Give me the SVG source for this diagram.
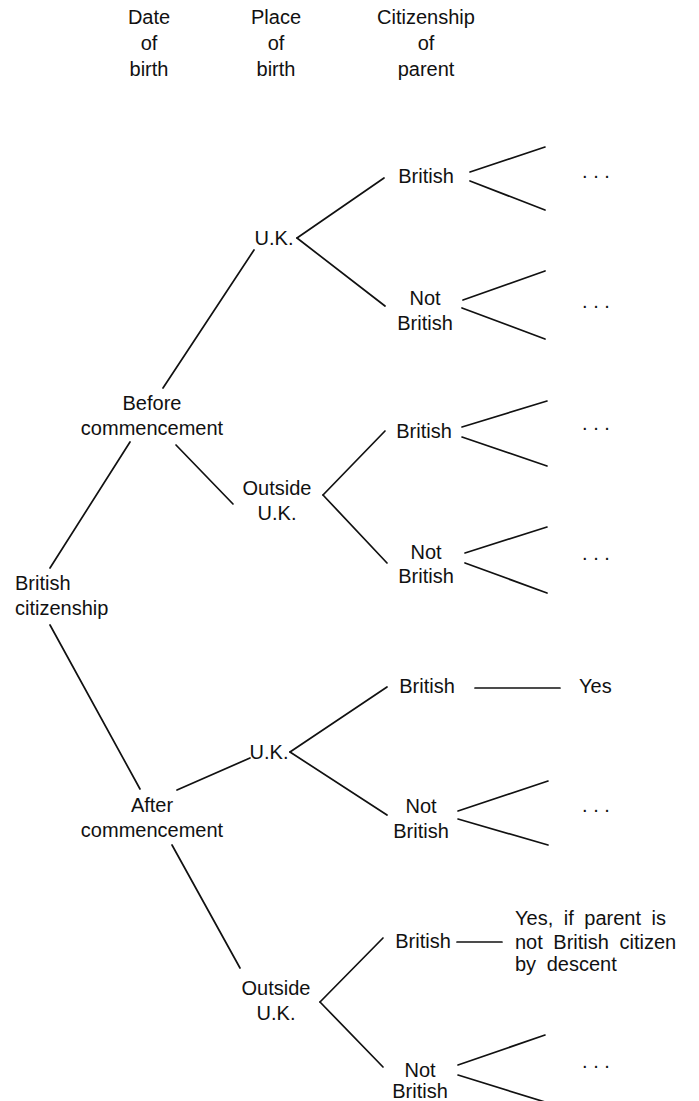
<svg xmlns="http://www.w3.org/2000/svg" width="699" height="1101" viewBox="0 0 699 1101">
<style>
text{font-family:"Liberation Sans",Arial,sans-serif;font-size:20px;fill:#111}
.m{text-anchor:middle}
.s{text-anchor:start}
.w{word-spacing:5px}
.c line{stroke:#111;stroke-width:1.7;stroke-linecap:round}
</style>
<rect width="699" height="1101" fill="#fff"/>
<g id="headers">
<text class="m" x="149" y="24">Date</text><text class="m" x="149" y="50">of</text><text class="m" x="149" y="76">birth</text>
<text class="m" x="276" y="24">Place</text><text class="m" x="276" y="50">of</text><text class="m" x="276" y="76">birth</text>
<text class="m" x="426" y="24">Citizenship</text><text class="m" x="426" y="50">of</text><text class="m" x="426" y="76">parent</text>
</g>
<g class="c" id="connectors">
<line x1="50" y1="568" x2="130" y2="442"/>
<line x1="50" y1="625" x2="140" y2="789"/>
<line x1="163" y1="388" x2="254" y2="250"/>
<line x1="176" y1="445" x2="233" y2="504"/>
<line x1="297" y1="238" x2="384" y2="178"/>
<line x1="297" y1="238" x2="385" y2="306"/>
<line x1="470" y1="172" x2="545" y2="147"/>
<line x1="470" y1="181" x2="545" y2="210"/>
<line x1="463" y1="300" x2="545" y2="271"/>
<line x1="462" y1="308" x2="545" y2="339"/>
<line x1="323" y1="495" x2="385" y2="431"/>
<line x1="323" y1="495" x2="387" y2="563"/>
<line x1="462" y1="427" x2="547" y2="401"/>
<line x1="462" y1="437" x2="547" y2="466"/>
<line x1="465" y1="553" x2="547" y2="527"/>
<line x1="465" y1="563" x2="547" y2="593"/>
<line x1="177" y1="790" x2="250" y2="758"/>
<line x1="172" y1="845" x2="240" y2="968"/>
<line x1="290" y1="752" x2="387" y2="687"/>
<line x1="290" y1="752" x2="387" y2="815"/>
<line x1="475" y1="688" x2="560" y2="688"/>
<line x1="458" y1="811" x2="548" y2="781"/>
<line x1="458" y1="819" x2="548" y2="845"/>
<line x1="320" y1="1002" x2="383" y2="938"/>
<line x1="320" y1="1002" x2="383" y2="1067"/>
<line x1="457" y1="942" x2="502" y2="942"/>
<line x1="458" y1="1065" x2="545" y2="1035"/>
<line x1="458" y1="1075" x2="545" y2="1102"/>
</g>
<g id="n-root"><text class="s" x="15" y="590">British</text><text class="s" x="15" y="615">citizenship</text></g>
<g id="n-before"><text class="m" x="152" y="410">Before</text><text class="m" x="152" y="435">commencement</text></g>
<g id="n-after"><text class="m" x="152" y="812">After</text><text class="m" x="152" y="837">commencement</text></g>
<g id="n-uk1"><text class="m" x="274" y="245">U.K.</text></g>
<g id="n-out1"><text class="m" x="277" y="495">Outside</text><text class="m" x="277" y="520">U.K.</text></g>
<g id="n-uk2"><text class="m" x="269" y="759">U.K.</text></g>
<g id="n-out2"><text class="m" x="276" y="995">Outside</text><text class="m" x="276" y="1020">U.K.</text></g>
<g id="n-b1"><text class="m" x="426" y="183">British</text></g>
<g id="n-nb1"><text class="m" x="425" y="305">Not</text><text class="m" x="425" y="330">British</text></g>
<g id="n-b2"><text class="m" x="424" y="438">British</text></g>
<g id="n-nb2"><text class="m" x="426" y="559">Not</text><text class="m" x="426" y="583">British</text></g>
<g id="n-b3"><text class="m" x="427" y="693">British</text></g>
<g id="n-nb3"><text class="m" x="421" y="813">Not</text><text class="m" x="421" y="838">British</text></g>
<g id="n-b4"><text class="m" x="423" y="948">British</text></g>
<g id="n-nb4"><text class="m" x="420" y="1077">Not</text><text class="m" x="420" y="1098">British</text></g>
<g id="n-yes"><text class="s" x="579" y="693">Yes</text></g>
<g id="n-yes2"><text class="s w" x="515" y="925">Yes, if parent is</text><text class="s w" x="515" y="949">not British citizen</text><text class="s w" x="515" y="971">by descent</text></g>
<g id="dots">
<text class="m" x="596" y="178">. . .</text>
<text class="m" x="596" y="308">. . .</text>
<text class="m" x="596" y="430">. . .</text>
<text class="m" x="596" y="560">. . .</text>
<text class="m" x="596" y="812">. . .</text>
<text class="m" x="596" y="1068">. . .</text>
</g>
</svg>
